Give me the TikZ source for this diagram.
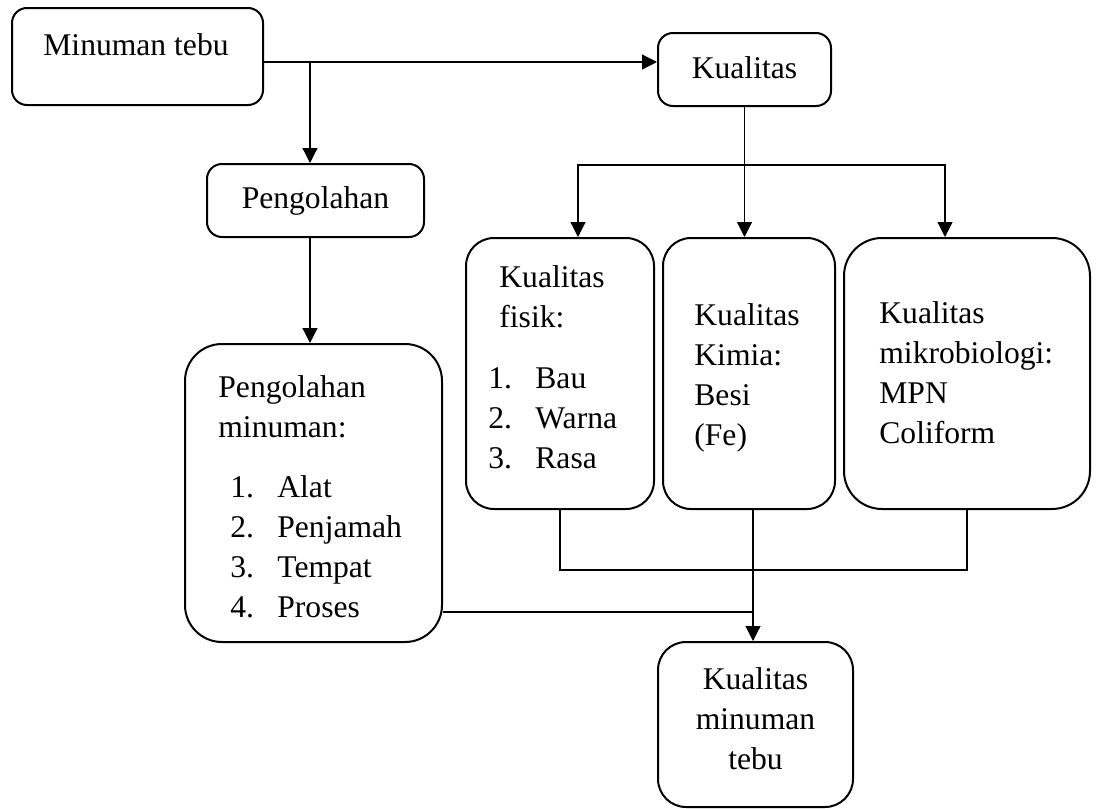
\documentclass[tikz,border=0pt]{standalone}
\usepackage{fontspec}
\setmainfont{Liberation Serif}
\usetikzlibrary{arrows.meta}
\newcommand{\nomor}[2]{\makebox[23.5pt][l]{#1}#2}

\begin{document}
\begin{tikzpicture}[x=0.5pt, y=-0.5pt,
	kotak/.style={draw, line width=1pt, inner sep=0pt},
	teks/.style={inner sep=0pt, align=left, font=\fontsize{15.8pt}{20pt}\selectfont},
	garis/.style={line width=0.6pt},
	panah/.style={garis, -{Triangle[width=7.5pt,length=7.5pt]}}]
	\useasboundingbox (0,0) rectangle (1099,809);
	% kotak
	\node [kotak, rounded corners=7.5pt, minimum width=125.5pt, minimum height=48.5pt] (tebu) at (137.5,56.5) {};
	\node [kotak, rounded corners=7.5pt, minimum width=108.5pt, minimum height=36.5pt] (olah) at (315.5,200.5) {};
	\node [kotak, rounded corners=7.5pt, minimum width=86.5pt, minimum height=36.5pt] (kualitas) at (744.5,69.5) {};
	\node [kotak, rounded corners=18.5pt, minimum width=128.5pt, minimum height=149pt] (olahmin) at (313.5,493) {};
	\node [kotak, rounded corners=14pt, minimum width=94pt, minimum height=135.5pt] (fisik) at (560,373.5) {};
	\node [kotak, rounded corners=14pt, minimum width=86pt, minimum height=135.5pt] (kimia) at (749,373.5) {};
	\node [kotak, rounded corners=19pt, minimum width=123pt, minimum height=135.5pt] (mikro) at (967,373.5) {};
	\node [kotak, rounded corners=14pt, minimum width=97.5pt, minimum height=82.5pt] (hasil) at (755.5,724.5) {};
	% teks (base = baris terakhir)
	\node [teks, anchor=base west] (ttebu) at (43,55) {Minuman tebu};
	\node [teks, anchor=base] (tolah) at (315.5,208) {Pengolahan};
	\node [teks, anchor=base] (tkualitas) at (744.5,78) {Kualitas};
	\node [teks, anchor=base west] (tolahmin) at (218,437) {Pengolahan\\minuman:};
	\node [teks, anchor=base west] (daftarolah) at (230,617) {\nomor{1.}{Alat}\\\nomor{2.}{Penjamah}\\\nomor{3.}{Tempat}\\\nomor{4.}{Proses}};
	\node [teks, anchor=base west] (tfisik) at (499,327) {Kualitas\\fisik:};
	\node [teks, anchor=base west] (daftarfisik) at (488,468) {\nomor{1.}{Bau}\\\nomor{2.}{Warna}\\\nomor{3.}{Rasa}};
	\node [teks, anchor=base west] (tkimia) at (694,445) {Kualitas\\Kimia:\\Besi\\(Fe)};
	\node [teks, anchor=base west] (tmikro) at (879,443) {Kualitas\\mikrobiologi:\\MPN\\Coliform};
	\node [teks, anchor=base, align=center] (thasil) at (755.5,769) {Kualitas\\minuman\\tebu};
	% panah
	\coordinate (cabang) at (310,62);
	\draw [panah] (tebu.east |- cabang) -- (kualitas.west |- cabang);
	\draw [panah] (cabang) -- (olah.north -| cabang);
	\draw [panah] (olah.south -| cabang) -- (olahmin.north -| cabang);
	\draw [panah] (kualitas.south) -- (kimia.north -| kualitas.south);
	\coordinate (bagikiri) at (578,165);
	\coordinate (bagikanan) at (945,165);
	\draw [garis, {Triangle[width=7.5pt,length=7.5pt]}-{Triangle[width=7.5pt,length=7.5pt]}] (fisik.north -| bagikiri) -- (bagikiri) -- (bagikanan) -- (mikro.north -| bagikanan);
	\coordinate (gabung) at (753,570);
	\coordinate (tengah) at (753,612);
	\draw [garis] (fisik.south) -- (fisik.south |- gabung) -- (mikro.south |- gabung) -- (mikro.south);
	\draw [panah] (kimia.south -| tengah) -- (hasil.north -| tengah);
	\draw [garis] (olahmin.east |- tengah) -- (tengah);
\end{tikzpicture}
\end{document}
